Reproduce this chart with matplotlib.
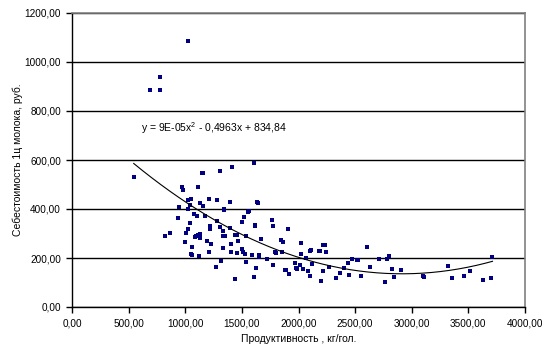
import numpy as np
import matplotlib
matplotlib.use('Agg')
import matplotlib.pyplot as plt
from matplotlib.ticker import FuncFormatter, MultipleLocator

plt.rcParams['font.family'] = ['Liberation Sans', 'DejaVu Sans']
plt.rcParams['mathtext.fontset'] = 'custom'
plt.rcParams['mathtext.rm'] = 'Liberation Sans'
plt.rcParams['mathtext.it'] = 'Liberation Sans'

# productivity, kg/head
prod = [687, 775, 781, 1023,
        545, 1150, 1155, 1304, 1410, 1604, 970, 982, 1112, 1023, 1047, 944,
        1133, 1153, 1209, 1280, 1392, 1637, 1642, 1020, 1041, 1339, 1345,
        1557, 1562, 1522, 1501, 932, 1080, 1103, 1177, 1277, 1041, 1023,
        1218, 1218, 1310, 1398, 1613, 1620, 817, 864, 1003, 1091, 1085,
        1110, 1129, 1129, 1188, 1227, 1330, 1333, 1348, 1439, 1457, 1401,
        1469, 1540, 1673, 994, 1058, 1050, 1060, 1118, 1209, 1333, 1407,
        1460, 1501, 1513, 1525, 1590, 1649, 1649, 1726, 1274, 1312, 1536,
        1622, 1611, 1439,
        1764, 1779, 1908, 1843, 1864, 2023, 2233, 2220, 2244, 2183, 2192,
        2103, 2110, 1852, 1793, 1797, 1779, 2023, 2067, 1970, 2012, 1982,
        1990, 1882, 1887, 2041, 2080, 1917, 2103, 2115, 2271, 2218, 2197,
        2333, 2369, 2404, 2439, 2448, 2474, 2519, 2527, 2551, 2607, 2634,
        2713, 2764, 2781, 2802, 2829, 2846, 2903, 3103, 3110, 3324, 3351,
        3461, 3510, 3625, 3696, 3713]

# cost of 1 centner of milk, rub.
cost = [885, 939, 885, 1085,
        529, 548, 545, 554, 570, 586, 489, 478, 489, 437, 442, 410,
        423, 412, 440, 436, 427, 429, 426, 401, 418, 397, 399,
        389, 392, 366, 347, 363, 378, 370, 370, 352, 342, 320,
        331, 317, 327, 324, 334, 331, 289, 301, 303, 290, 287,
        295, 298, 282, 269, 257, 309, 291, 290, 293, 293, 257,
        271, 291, 279, 264, 244, 216, 214, 207, 223, 241, 223,
        219, 235, 226, 216, 212, 211, 205, 197, 163, 187, 184,
        158, 121, 113,
        355, 331, 320, 273, 265, 261, 253, 252, 224, 229, 228,
        230, 231, 224, 223, 219, 171, 216, 200, 180, 170, 159,
        157, 152, 150, 154, 146, 133, 128, 174, 165, 148, 106,
        118, 137, 158, 178, 129, 195, 193, 191, 125, 245, 163,
        196, 103, 196, 208, 154, 121, 151, 127, 124, 166, 118,
        127, 148, 109, 120, 203]

x_ticks = [0, 500, 1000, 1500, 2000, 2500, 3000, 3500, 4000]

fig = plt.figure(figsize=(5.49, 3.61), dpi=100)
ax = fig.add_axes([72 / 549, 1 - 307 / 361, 453 / 549, 294 / 361])

ax.set_xlim(0, 4000)
ax.set_ylim(0, 1200)
ax.yaxis.set_major_locator(MultipleLocator(200))
ax.set_xticks(x_ticks)
fmt = FuncFormatter(lambda v, p: f"{v:.2f}".replace('.', ','))
ax.xaxis.set_major_formatter(fmt)
ax.yaxis.set_major_formatter(fmt)

ax.grid(axis='y', color='black', linewidth=1.0)
ax.set_axisbelow(True)

for s in ['top', 'right']:
    ax.spines[s].set_color('#808080')
    ax.spines[s].set_linewidth(1.2)
for s in ['left', 'bottom']:
    ax.spines[s].set_color('black')
    ax.spines[s].set_linewidth(1.0)

ax.tick_params(direction='out', length=4, width=1, labelsize=7.2, pad=4)

ax.scatter(prod, cost, marker='s', s=5, color='#000080', linewidths=0, zorder=3)

# polynomial trend line (2nd order)
coef = np.polyfit(prod, cost, 2)
xs = np.linspace(min(prod), max(prod), 200)
ax.plot(xs, np.polyval(coef, xs), color='black', linewidth=0.8, zorder=4)

ax.text(610, 730, r'y = 9E-05x$^{2}$ - 0,4963x + 834,84', fontsize=7.5, va='center')

ax.set_xlabel('Продуктивность , кг/гол.', fontsize=7.5, labelpad=4)
ax.set_ylabel('Себестоимость 1ц молока, руб.', fontsize=7.5, labelpad=1)

fig.savefig('out.png', dpi=100)
